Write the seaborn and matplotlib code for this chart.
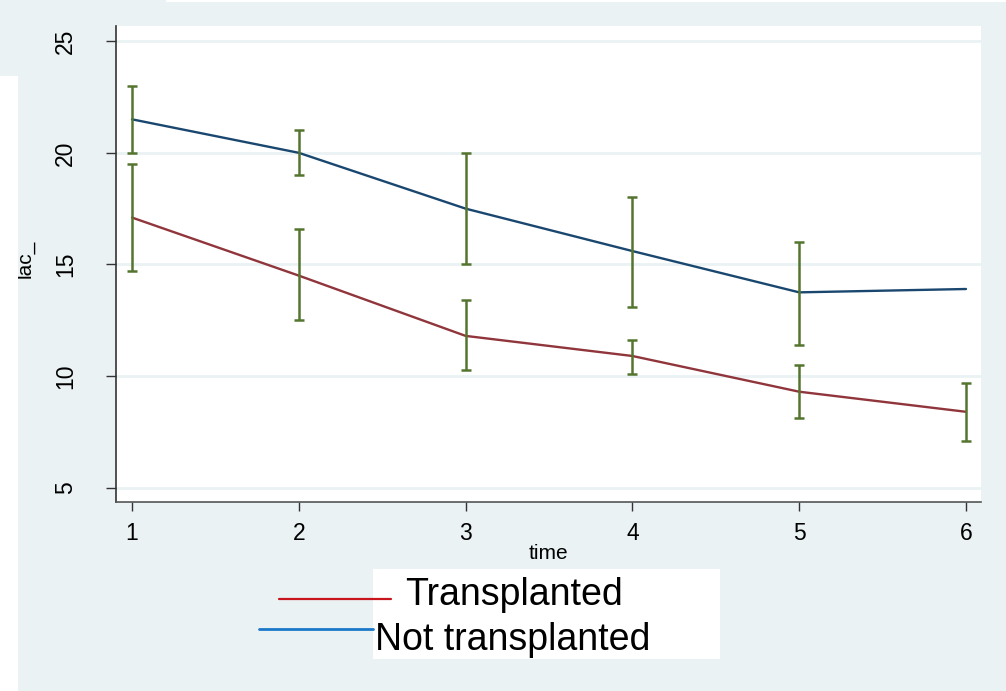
import matplotlib
matplotlib.use("Agg")
import numpy as np
import pandas as pd
import seaborn as sns
import matplotlib.pyplot as plt
from matplotlib.patches import Rectangle
from matplotlib.lines import Line2D

# ---- data -------------------------------------------------------------
time = [1, 2, 3, 4, 5, 6]
groups = ["Transplanted", "Not transplanted"]

transplanted_mean = [17.1, 14.5, 11.8, 10.9, 9.3, 8.4]
transplanted_lo = [14.7, 12.5, 10.25, 10.1, 8.1, 7.1]
transplanted_hi = [19.5, 16.6, 13.4, 11.6, 10.5, 9.7]

not_transplanted_mean = [21.5, 20.0, 17.5, 15.6, 13.75, 13.9]
not_transplanted_lo = [20.0, 19.0, 15.0, 13.1, 11.4, np.nan]
not_transplanted_hi = [23.0, 21.0, 20.0, 18.0, 16.0, np.nan]

y_ticks = [5, 10, 15, 20, 25]
x_ticks = [1, 2, 3, 4, 5, 6]

# ---- style ------------------------------------------------------------
BG = "#EAF2F3"
LINE_COLORS = {"Transplanted": "#90353b", "Not transplanted": "#1a476f"}
KEY_COLORS = {"Transplanted": "#c8141c", "Not transplanted": "#1a78c8"}
CI_COLOR = "#55752f"

sns.set_style("white")
plt.rcParams["font.family"] = ["Liberation Sans", "DejaVu Sans"]
plt.rcParams["text.color"] = "black"
plt.rcParams["axes.labelcolor"] = "black"
plt.rcParams["xtick.color"] = "black"
plt.rcParams["ytick.color"] = "black"

W, H = 1006, 691
fig = plt.figure(figsize=(W / 100, H / 100), dpi=100, facecolor=BG)


def fx(px):
    return px / W


def fy(py):
    return (H - py) / H


# white panels of the graph region
fig.patches.append(Rectangle((fx(0), fy(H)), fx(18), fy(76) - fy(H),
                             transform=fig.transFigure, facecolor="white",
                             edgecolor="none", zorder=0))
fig.patches.append(Rectangle((fx(166), fy(1.5)), fx(W - 166), fy(0) - fy(1.5),
                             transform=fig.transFigure, facecolor="white",
                             edgecolor="none", zorder=0))

ax = fig.add_axes([fx(116), fy(502), fx(981 - 116), fy(26) - fy(502)])
ax.set_facecolor("white")

long = pd.DataFrame({
    "time": time * 2,
    "lac_": transplanted_mean + not_transplanted_mean,
    "group": [groups[0]] * len(time) + [groups[1]] * len(time),
})

sns.lineplot(data=long, x="time", y="lac_", hue="group", hue_order=groups,
             palette=LINE_COLORS, linewidth=1.7, legend=False, ax=ax, zorder=3)

for mean, lo, hi in [(transplanted_mean, transplanted_lo, transplanted_hi),
                     (not_transplanted_mean, not_transplanted_lo, not_transplanted_hi)]:
    m = np.array(mean)
    l = np.array(lo, dtype=float)
    h = np.array(hi, dtype=float)
    ok = ~np.isnan(l)
    ax.errorbar(np.array(time)[ok], m[ok], yerr=[m[ok] - l[ok], h[ok] - m[ok]],
                fmt="none", ecolor=CI_COLOR, elinewidth=1.8, capsize=3.7,
                capthick=1.8, zorder=4)

ax.set_xlim(0.904, 6.09)
ax.set_ylim(4.36, 25.68)
ax.set_xticks(x_ticks)
ax.set_yticks(y_ticks)
ax.set_xticklabels([str(v) for v in x_ticks], fontsize=16.5)
ax.set_yticklabels([str(v) for v in y_ticks], fontsize=16.5, rotation=90,
                   va="center")

ax.yaxis.grid(True, color=BG, linewidth=2.0)
ax.xaxis.grid(False)
ax.set_axisbelow(True)

for side in ("top", "right"):
    ax.spines[side].set_visible(False)
ax.spines["left"].set_color("#333333")
ax.spines["bottom"].set_color("#555555")
ax.spines["left"].set_linewidth(1.2)
ax.spines["bottom"].set_linewidth(1.2)

ax.tick_params(axis="x", direction="out", length=6.5, width=1, color="#333333",
               labelcolor="black", pad=8, bottom=True)
ax.tick_params(axis="y", direction="out", length=7.2, width=1, color="#333333",
               labelcolor="black", pad=21, left=True)

ax.set_xlabel("time", fontsize=15, va="center", color="black")
ax.xaxis.set_label_coords(0.5, -0.109)
ax.set_ylabel("lac_", fontsize=15, va="center", color="black")
ax.yaxis.set_label_coords(-0.105, 0.51)

# ---- key --------------------------------------------------------------
fig.patches.append(Rectangle((fx(373), fy(659)), fx(720 - 373), fy(569) - fy(659),
                             transform=fig.transFigure, facecolor="white",
                             edgecolor="none", zorder=1))
fig.lines.append(Line2D([fx(279), fx(391)], [fy(599), fy(599)],
                        transform=fig.transFigure,
                        color=KEY_COLORS["Transplanted"], linewidth=1.6, zorder=2))
fig.lines.append(Line2D([fx(259), fx(373)], [fy(628.5), fy(628.5)],
                        transform=fig.transFigure,
                        color=KEY_COLORS["Not transplanted"], linewidth=2.0, zorder=2))
fig.text(fx(405), fy(605), "Transplanted", fontsize=27, ha="left",
         va="baseline", color="black", zorder=3)
fig.text(fx(375), fy(650), "Not transplanted", fontsize=27, ha="left",
         va="baseline", color="black", zorder=3)

fig.savefig("out.png", dpi=100, facecolor=BG)
